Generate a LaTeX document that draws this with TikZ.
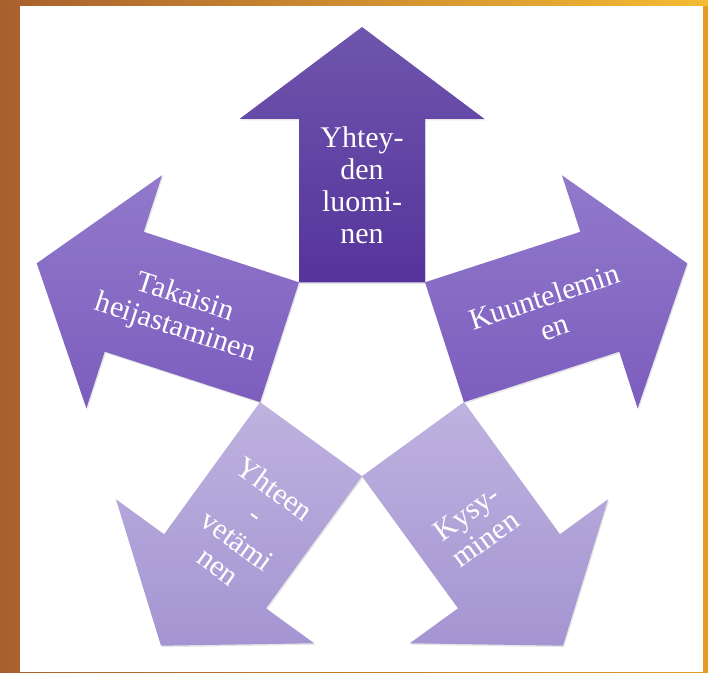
\documentclass[tikz,border=0pt]{standalone}
\usepackage{fontspec}
\setmainfont{Liberation Serif}
\usetikzlibrary{calc, shadows}

\definecolor{frameL}{HTML}{A8602E}
\definecolor{frameR}{HTML}{E39A22}
\definecolor{frameT}{HTML}{F3BC32}
\definecolor{darkT}{HTML}{6F55AD}
\definecolor{darkB}{HTML}{55349B}
\definecolor{midT}{HTML}{9279CB}
\definecolor{midB}{HTML}{7C5DBE}
\definecolor{lightT}{HTML}{BEB2DF}
\definecolor{lightB}{HTML}{A495D2}

\begin{document}
\begin{tikzpicture}[
    x=1pt, y=1pt,
    darkarrow/.style={top color=darkT, bottom color=darkB, drop shadow={shadow xshift=1pt, shadow yshift=-1.5pt, opacity=0.2}},
    midarrow/.style={top color=midT, bottom color=midB, drop shadow={shadow xshift=1pt, shadow yshift=-1.5pt, opacity=0.2}},
    lightarrow/.style={top color=lightT, bottom color=lightB, drop shadow={shadow xshift=1pt, shadow yshift=-1.5pt, opacity=0.2}},
    arrowtext/.style={text=white, align=center, inner sep=0pt, font=\fontsize{30}{32}\selectfont}
]
\useasboundingbox (0,0) rectangle (708,672);

% Frame and page
\fill[left color=frameL, right color=frameR] (0,0) rectangle (708,672);
\fill[left color=frameL, right color=frameT] (0,666) rectangle (708,672);
\fill[white] (20,0) rectangle (703,666);

\coordinate (c) at (362,303);

% Arrows
\path[darkarrow, shift={(c)}, rotate=90] (86.7,-63) -- (250,-63) -- (250,-122.5) -- (342,0) -- (250,122.5) -- (250,63) -- (86.7,63) -- cycle;
\path[midarrow, shift={(c)}, rotate=162] (86.7,-63) -- (250,-63) -- (250,-122.5) -- (342,0) -- (250,122.5) -- (250,63) -- (86.7,63) -- cycle;
\path[midarrow, shift={(c)}, rotate=18] (86.7,-63) -- (250,-63) -- (250,-122.5) -- (342,0) -- (250,122.5) -- (250,63) -- (86.7,63) -- cycle;
\path[lightarrow, shift={(c)}, rotate=234] (86.7,-63) -- (250,-63) -- (250,-122.5) -- (342,0) -- (250,122.5) -- (250,63) -- (86.7,63) -- cycle;
\path[lightarrow, shift={(c)}, rotate=306] (86.7,-63) -- (250,-63) -- (250,-122.5) -- (342,0) -- (250,122.5) -- (250,63) -- (86.7,63) -- cycle;

% Texts
\node[arrowtext] (yhteys) at ($(c)+(90:184)$) {Yhtey-\\den\\luomi-\\nen};
\node[arrowtext, rotate=-18] (takaisin) at ($(c)+(163:190)$) {Takaisin\\heijastaminen};
\node[arrowtext, rotate=18] (kuuntelu) at ($(c)+(17:196)$) {Kuuntelemin\\en};
\node[arrowtext, rotate=-36] (yhteenveto) at ($(c)+(234:196)$) {Yhteen\\-\\vetämi\\nen};
\node[arrowtext, rotate=36] (kysyminen) at ($(c)+(306:194)$) {Kysy-\\minen};

\end{tikzpicture}
\end{document}
